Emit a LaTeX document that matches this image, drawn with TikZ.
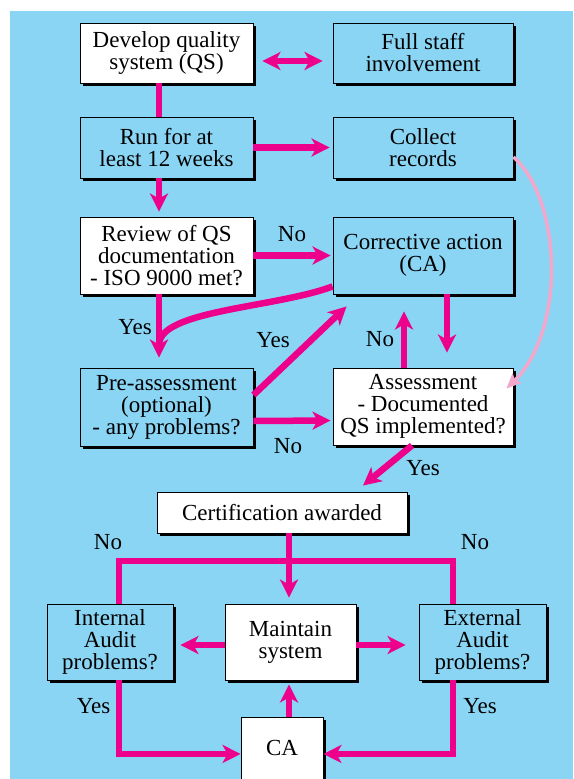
\documentclass[tikz,border=0pt]{standalone}
\usepackage{fontspec}
\setmainfont{Liberation Serif}
\usetikzlibrary{arrows.meta,shadows,calc}
\definecolor{bg}{HTML}{8BD5F4}
\definecolor{mag}{HTML}{EC008C}
\definecolor{pinkc}{HTML}{F2A7CB}
\begin{document}
\begin{tikzpicture}[x=1pt,y=-1pt,
  box/.style={draw=black,line width=0.9pt,inner sep=0pt,align=center,
    font=\fontsize{23}{22}\selectfont,
    drop shadow={shadow xshift=3pt,shadow yshift=-3pt,fill=black,opacity=1}},
  wbox/.style={box,fill=white},
  bbox/.style={box,fill=bg},
  lbl/.style={inner sep=0pt,font=\fontsize{23}{22}\selectfont},
  conn/.style={draw=mag,line width=6.5pt},
  arr/.style={conn,-{Stealth[length=18pt,width=18pt,inset=5pt]}},
  darr/.style={conn,{Stealth[length=18pt,width=18pt,inset=5pt]}-{Stealth[length=18pt,width=18pt,inset=5pt]}},
  parr/.style={draw=pinkc,line width=3.5pt,-{Stealth[length=15pt,width=13pt,inset=3pt]}}
]
\useasboundingbox (0,0) rectangle (573,779);
\clip (0,0) rectangle (573,779);
\fill[bg] (10,11) rectangle (573,779);

% boxes
\node[wbox,minimum width=173pt,minimum height=60pt] (dev) at (166.5,53) {Develop quality\\system (QS)};
\node[bbox,minimum width=180pt,minimum height=60pt] (staff) at (423,53) {Full staff\\involvement};
\node[bbox,minimum width=173pt,minimum height=61pt] (run) at (166.5,147.5) {Run for at\\least 12 weeks};
\node[bbox,minimum width=180pt,minimum height=61pt] (coll) at (423,147.5) {Collect\\records};
\node[wbox,minimum width=173pt,minimum height=77pt] (rev) at (166.5,255.5) {Review of QS\\documentation\\- ISO 9000 met?};
\node[bbox,minimum width=180pt,minimum height=77pt] (corr) at (423,255.5) {Corrective action\\(CA)};
\node[bbox,minimum width=173pt,minimum height=78pt] (pre) at (166.5,407) {Pre-assessment\\(optional)\\- any problems?};
\node[wbox,minimum width=180pt,minimum height=77pt] (asmt) at (423,406.5) {Assessment\\- Documented\\QS implemented?};
\node[wbox,minimum width=250pt,minimum height=41pt] (cert) at (282,512.5) {Certification awarded};
\node[bbox,minimum width=126pt,minimum height=76pt] (intl) at (110,642) {Internal\\Audit\\problems?};
\node[wbox,minimum width=131pt,minimum height=76pt] (maint) at (290.5,642) {Maintain\\system};
\node[bbox,minimum width=127pt,minimum height=76pt] (ext) at (482.5,642) {External\\Audit\\problems?};
\node[wbox,minimum width=82pt,text height=38pt,text depth=35pt,anchor=north] (ca) at (282,717) {CA};

% labels
\node[lbl] (no1) at (292,234) {No};
\node[lbl] (yes1) at (135,327) {Yes};
\node[lbl] (yes2) at (273,340) {Yes};
\node[lbl] (no2) at (380,339) {No};
\node[lbl] (no3) at (288,446) {No};
\node[lbl] (yes3) at (423,468) {Yes};
\node[lbl] (no4) at (108,542) {No};
\node[lbl] (no5) at (475,542) {No};
\node[lbl] (yes4) at (93.5,706) {Yes};
\node[lbl] (yes5) at (480,706) {Yes};

% connectors
\draw[darr] ([xshift=9pt,yshift=-8pt]dev.east) -- ([xshift=-10pt,yshift=-8pt]staff.west);
\draw[conn] ([xshift=-7.5pt]dev.south) -- ([xshift=-7.5pt]run.north);
\draw[arr] (run.east) -- ([xshift=-3pt]coll.west);
\draw[arr] ([xshift=-7.5pt]run.south) -- ([xshift=-7.5pt,yshift=5pt]rev.north);
\draw[arr] (rev.east) -- ([xshift=-2pt]corr.west);
\draw[conn] ([yshift=8pt]corr.south west) .. controls (275,308) and (159,310) .. (159,345);
\draw[arr] ([xshift=-7.5pt]rev.south) -- ([xshift=-7.5pt,yshift=10pt]pre.north);
\draw[arr] ([yshift=12pt]pre.east) -- ([xshift=14pt,yshift=-12pt]corr.south west);
\draw[arr] ([yshift=-14pt]pre.east) -- ([yshift=-14pt,xshift=-2pt]asmt.west);
\draw[arr] ([xshift=24pt]corr.south) -- ([xshift=24pt,yshift=15pt]asmt.north);
\draw[arr] ([xshift=-19pt]asmt.north) -- ([xshift=-19pt,yshift=-17pt]corr.south);
\draw[arr] ([xshift=-11pt]asmt.south) -- ([xshift=81pt,yshift=6pt]cert.north);
\draw[parr] ([yshift=-9.5pt]coll.east) .. controls (562,200) and (566,330) .. ([xshift=-7pt,yshift=-21pt]asmt.north east);

\coordinate (hb) at (289,561);
\draw[arr] ([xshift=7pt]cert.south) -- ([xshift=-1.5pt,yshift=6pt]maint.north);
\draw[conn] ([xshift=9pt]intl.north) |- (hb) -| ([xshift=-29.5pt]ext.north);
\draw[arr] ([yshift=-3pt]maint.west) -- ([xshift=7pt,yshift=-3pt]intl.east);
\draw[arr] ([yshift=-3pt]maint.east) -- ([xshift=-13pt,yshift=-3pt]ext.west);
\draw[arr] ([xshift=7pt]ca.north) -- ([xshift=-1.5pt,yshift=-4pt]maint.south);
\draw[arr] ([xshift=9pt]intl.south) |- (ca.west);
\draw[arr] ([xshift=-29.5pt]ext.south) |- (ca.east);
\end{tikzpicture}
\end{document}
